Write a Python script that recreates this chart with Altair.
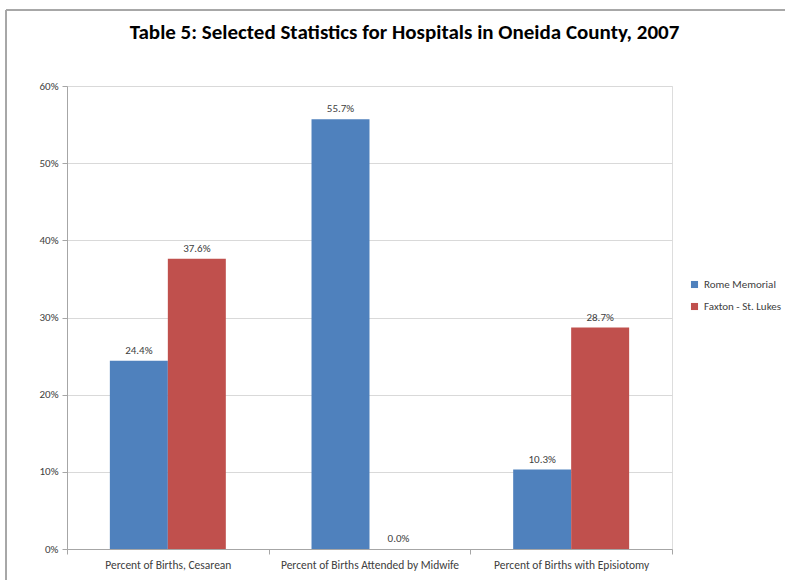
import altair as alt
import pandas as pd

categories = ["Percent of Births, Cesarean", "Percent of Births Attended by Midwife", "Percent of Births with Episiotomy"]
series = ["Rome Memorial", "Faxton - St. Lukes"]
rome = [0.244, 0.557, 0.103]
faxton = [0.376, 0.0, 0.287]
colors = ["#4F81BD", "#C0504D"]

rows = []
for c, r, f in zip(categories, rome, faxton):
    rows.append({"cat": c, "series": series[0], "value": r})
    rows.append({"cat": c, "series": series[1], "value": f})
df = pd.DataFrame(rows)

FONT = "Carlito, Lato, sans-serif"

x = alt.X("cat:N", sort=categories, title=None,
          scale=alt.Scale(paddingInner=0, paddingOuter=0),
          axis=alt.Axis(labelAngle=0, labelFontSize=11.5, labelColor="#404040", labelFont=FONT,
                        tickBand="extent", tickSize=5, tickColor="#a6a6a6", domainColor="#a6a6a6",
                        labelPadding=5, grid=False))
xo = alt.XOffset("series:N", sort=series, scale=alt.Scale(paddingInner=0, paddingOuter=0.739))

base = alt.Chart(df).encode(x=x, xOffset=xo)

bars = base.mark_bar().encode(
    y=alt.Y("value:Q", title=None,
            scale=alt.Scale(domain=[0, 0.6]),
            axis=alt.Axis(format=".0%", values=[0, 0.1, 0.2, 0.3, 0.4, 0.5, 0.6],
                          labelFontSize=11, labelColor="#404040", labelFont=FONT,
                          gridColor="#d9d9d9", tickColor="#a6a6a6", domainColor="#a6a6a6",
                          tickSize=5, labelPadding=4)),
    color=alt.Color("series:N", sort=series, scale=alt.Scale(domain=series, range=colors),
                    legend=alt.Legend(title=None, orient="none", legendX=622, legendY=193,
                                      symbolType="square", symbolSize=50, labelFontSize=11,
                                      labelFont=FONT, labelColor="#404040", rowPadding=10,
                                      symbolStrokeWidth=0)),
)

labels = base.mark_text(baseline="bottom", dy=-5, fontSize=11, font=FONT, color="#404040").encode(
    y="value:Q",
    text=alt.Text("value:Q", format=".1%"),
)

frame = alt.Chart(df).mark_rect(fill=None, stroke="#a6a6a6", strokeWidth=1, clip=False).encode(
    x=alt.value(-61), x2=alt.value(760), y=alt.value(-76), y2=alt.value(520)
)

chart = (frame + bars + labels).properties(
    width=605, height=463,
    padding={"left": 67, "top": 86, "right": 113, "bottom": 31},
    autosize=alt.AutoSizeParams(type="none"),
    title=alt.Title("Table 5: Selected Statistics for Hospitals in Oneida County, 2007",
                    fontSize=21, font=FONT, fontWeight="bold", color="#000000",
                    anchor="middle", offset=0, dx=35, dy=54, baseline="bottom"),
).configure_view(strokeWidth=0, stroke="transparent").configure(background="white")

chart.save("out.html", embed_options={"renderer": "svg", "actions": False})
